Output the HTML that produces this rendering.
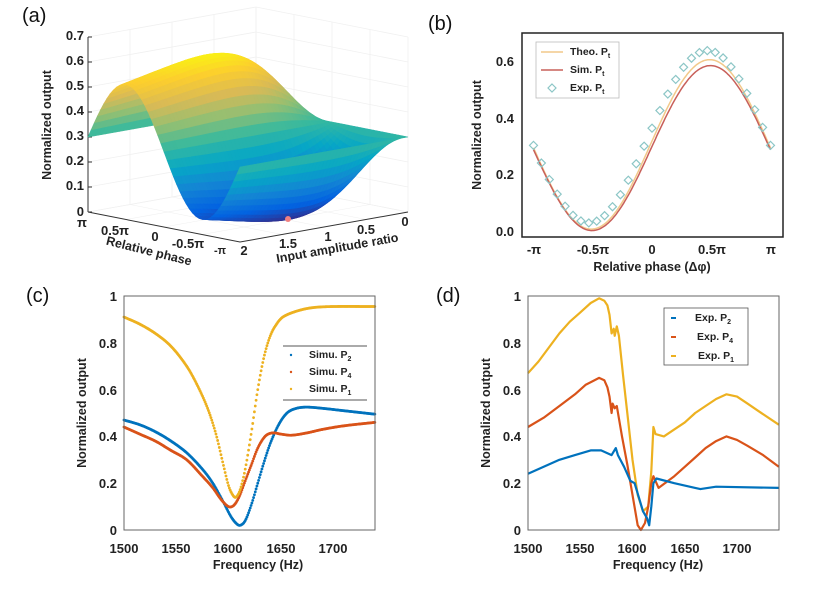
<!DOCTYPE html>
<html><head><meta charset="utf-8"><style>
html,body{margin:0;padding:0;background:#fff;}
svg{display:block;font-family:"Liberation Sans",Arial,sans-serif;}
.t{font-size:13px;font-weight:bold;fill:#222;}
.at{font-size:12.5px;font-weight:bold;fill:#222;}
.pl{font-size:20px;fill:#111;}
.lg{font-size:10.5px;font-weight:bold;fill:#222;}
.sb{font-size:7px;}
</style></head><body>
<svg id="s" width="826" height="595" viewBox="0 0 826 595" xmlns="http://www.w3.org/2000/svg">
<rect width="826" height="595" fill="#fff"/>
<text class="pl" x="22" y="22">(a)</text>
<text class="pl" x="428" y="30">(b)</text>
<text class="pl" x="26" y="302">(c)</text>
<text class="pl" x="436" y="302">(d)</text>

<g id="A"></g>
<g class="t" text-anchor="end">
<text x="84" y="40">0.7</text><text x="84" y="65">0.6</text><text x="84" y="90">0.5</text>
<text x="84" y="115">0.4</text><text x="84" y="140">0.3</text><text x="84" y="165">0.2</text>
<text x="84" y="190">0.1</text><text x="84" y="216">0</text>
</g>
<text class="at" transform="translate(51,125) rotate(-90)" text-anchor="middle">Normalized output</text>
<g class="t" text-anchor="middle">
<text x="82" y="227">π</text><text x="115" y="235">0.5π</text><text x="155" y="241">0</text>
<text x="188" y="248">-0.5π</text><text x="220" y="254" font-size="11">-π</text>
<text x="244" y="255">2</text><text x="288" y="248">1.5</text><text x="328" y="241">1</text>
<text x="366" y="234">0.5</text><text x="405" y="226">0</text>
</g>
<text class="at" font-size="13" transform="translate(148,255) rotate(14)" text-anchor="middle">Relative phase</text>
<text class="at" font-size="13" transform="translate(338,252) rotate(-10)" text-anchor="middle">Input amplitude ratio</text>

<g id="B"></g>
<rect x="522" y="33" width="261" height="204" fill="none" stroke="#222" stroke-width="1.5"/>
<g class="t" text-anchor="end">
<text x="514" y="66">0.6</text><text x="514" y="123">0.4</text><text x="514" y="179">0.2</text><text x="514" y="236">0.0</text>
</g>
<g class="t" text-anchor="middle">
<text x="534" y="254">-π</text><text x="593" y="254">-0.5π</text><text x="652" y="254">0</text>
<text x="712" y="254">0.5π</text><text x="771" y="254">π</text>
</g>
<text class="at" x="652" y="271" text-anchor="middle">Relative phase (Δφ)</text>
<text class="at" transform="translate(481,135) rotate(-90)" text-anchor="middle">Normalized output</text>
<rect x="536" y="42" width="83" height="56" fill="#fff" stroke="#bbb" stroke-width="0.8"/>
<line x1="541" y1="52" x2="563" y2="52" stroke="#f2c98a" stroke-width="1.5"/>
<line x1="541" y1="70" x2="563" y2="70" stroke="#c8605a" stroke-width="1.5"/>
<path d="M552 84 l4 4 l-4 4 l-4 -4z" fill="none" stroke="#8cc6c6" stroke-width="1.2"/>
<text class="lg" x="570" y="55">Theo. P<tspan class="sb" dy="3">t</tspan></text>
<text class="lg" x="570" y="73">Sim. P<tspan class="sb" dy="3">t</tspan></text>
<text class="lg" x="570" y="91">Exp. P<tspan class="sb" dy="3">t</tspan></text>

<g id="C"></g>
<rect x="124" y="296" width="251" height="234" fill="none" stroke="#666" stroke-width="1"/>
<g class="t" text-anchor="end" font-size="14">
<text x="117" y="301">1</text><text x="117" y="348">0.8</text><text x="117" y="395">0.6</text>
<text x="117" y="441">0.4</text><text x="117" y="488">0.2</text><text x="117" y="535">0</text>
</g>
<g class="t" text-anchor="middle" font-size="14">
<text x="124" y="553">1500</text><text x="176" y="553">1550</text><text x="228" y="553">1600</text>
<text x="281" y="553">1650</text><text x="333" y="553">1700</text>
</g>
<text class="at" x="258" y="569" text-anchor="middle">Frequency (Hz)</text>
<text class="at" transform="translate(86,413) rotate(-90)" text-anchor="middle">Normalized output</text>
<rect x="283" y="346" width="84" height="54" fill="#fff"/>
<line x1="283" y1="346" x2="367" y2="346" stroke="#555"/><line x1="283" y1="400" x2="367" y2="400" stroke="#555"/>
<circle cx="291" cy="355" r="1.2" fill="#0072BD"/><circle cx="291" cy="372" r="1.2" fill="#D95319"/><circle cx="291" cy="389" r="1.2" fill="#EDB120"/>
<text class="lg" x="309" y="358">Simu. P<tspan class="sb" dy="3">2</tspan></text>
<text class="lg" x="309" y="375">Simu. P<tspan class="sb" dy="3">4</tspan></text>
<text class="lg" x="309" y="392">Simu. P<tspan class="sb" dy="3">1</tspan></text>

<g id="D"></g>
<rect x="528" y="296" width="251" height="234" fill="none" stroke="#666" stroke-width="1"/>
<g class="t" text-anchor="end" font-size="14">
<text x="521" y="301">1</text><text x="521" y="348">0.8</text><text x="521" y="395">0.6</text>
<text x="521" y="441">0.4</text><text x="521" y="488">0.2</text><text x="521" y="535">0</text>
</g>
<g class="t" text-anchor="middle" font-size="14">
<text x="528" y="553">1500</text><text x="580" y="553">1550</text><text x="632" y="553">1600</text>
<text x="685" y="553">1650</text><text x="737" y="553">1700</text>
</g>
<text class="at" x="658" y="569" text-anchor="middle">Frequency (Hz)</text>
<text class="at" transform="translate(490,413) rotate(-90)" text-anchor="middle">Normalized output</text>
<rect x="664" y="308" width="84" height="57" fill="#fff" stroke="#555" stroke-width="0.8"/>
<line x1="671" y1="318" x2="676" y2="318" stroke="#0072BD" stroke-width="2"/>
<line x1="671" y1="337" x2="676" y2="337" stroke="#D95319" stroke-width="2"/>
<line x1="671" y1="356" x2="676" y2="356" stroke="#EDB120" stroke-width="2"/>
<text class="lg" x="695" y="321">Exp. P<tspan class="sb" dy="3">2</tspan></text>
<text class="lg" x="697" y="340">Exp. P<tspan class="sb" dy="3">4</tspan></text>
<text class="lg" x="698" y="359">Exp. P<tspan class="sb" dy="3">1</tspan></text>
</svg>
<script>
var NS="http://www.w3.org/2000/svg";
function el(p,t,a){var e=document.createElementNS(NS,t);for(var k in a)e.setAttribute(k,a[k]);p.appendChild(e);return e;}
var P=[[53,42,135],[3,99,225],[20,133,212],[6,167,198],[56,185,158],[146,191,115],[217,186,86],[252,206,46],[249,251,14]];
function col(t){t=Math.max(0,Math.min(1,t))*8;var i=Math.min(7,Math.floor(t)),f=t-i,a=P[i],b=P[i+1];
return "rgb("+[0,1,2].map(function(k){return Math.round(a[k]+(b[k]-a[k])*f)}).join(",")+")";}
var A=document.getElementById("A");
function pr(u,v,z){return [240-152*u+168*(1-v),242-30*u-30*(1-v)-250*z];}
var gc="#f0f0f0";
for(var i=0;i<=7;i++){var z=i*0.1;var a=pr(1,1,z),b=pr(1,0,z),c=pr(0,0,z);
el(A,"polyline",{points:a+" "+b+" "+c,fill:"none",stroke:gc,"stroke-width":0.8});}
for(var i=0;i<=4;i++){var a=pr(1-i/4,0,0),b=pr(1-i/4,0,0.7);el(A,"line",{x1:a[0],y1:a[1],x2:b[0],y2:b[1],stroke:gc,"stroke-width":0.8});
var c=pr(1,i/4,0),d=pr(1,i/4,0.7);el(A,"line",{x1:c[0],y1:c[1],x2:d[0],y2:d[1],stroke:gc,"stroke-width":0.8});
var e=pr(1-i/4,1,0),f=pr(1-i/4,0,0);el(A,"line",{x1:e[0],y1:e[1],x2:f[0],y2:f[1],stroke:gc,"stroke-width":0.6});
var g=pr(0,i/4,0),h=pr(1,i/4,0);el(A,"line",{x1:g[0],y1:g[1],x2:h[0],y2:h[1],stroke:gc,"stroke-width":0.6});}
var o=pr(1,1,0),o2=pr(1,1,0.7);el(A,"line",{x1:o[0],y1:o[1],x2:o2[0],y2:o2[1],stroke:"#333"});
for(var i=0;i<=7;i++){var q=pr(1,1,i*0.1);el(A,"line",{x1:q[0],y1:q[1],x2:q[0]+4,y2:q[1],stroke:"#333"});}
var f1=pr(1,1,0),f2=pr(0,1,0),f3=pr(0,0,0);
el(A,"polyline",{points:f1+" "+f2+" "+f3,fill:"none",stroke:"#333"});
function Z(u,v){var ph=-Math.PI+2*Math.PI*u,r=2*v;return 0.3*(1+r*r+2*r*Math.sin(ph))/(1+r*r);}
var N=48,qs=[];
for(var i=0;i<N;i++)for(var j=0;j<N;j++){var u0=i/N,u1=(i+1)/N,v0=j/N,v1=(j+1)/N;
var zs=[Z(u0,v0),Z(u1,v0),Z(u1,v1),Z(u0,v1)];var zm=(zs[0]+zs[1]+zs[2]+zs[3])/4;
qs.push({d:(u0+u1)/2+(1-(v0+v1)/2),p:[pr(u0,v0,zs[0]),pr(u1,v0,zs[1]),pr(u1,v1,zs[2]),pr(u0,v1,zs[3])],c:col(zm/0.62)});}
qs.sort(function(a,b){return b.d-a.d});
qs.forEach(function(q){el(A,"polygon",{points:q.p.join(" "),fill:q.c,stroke:q.c,"stroke-width":0.6});});
el(A,"circle",{cx:288,cy:219,r:3,fill:"#f08080"});
var B=document.getElementById("B");
function bx(ph){return 652+ph/Math.PI*118.5;} function by(y){return 230-y*282.5;}
function line(g,f,c,w){var s="";for(var k=0;k<=200;k++){var ph=-Math.PI+2*Math.PI*k/200;s+=bx(ph).toFixed(1)+","+by(f(ph)).toFixed(1)+" ";}
el(g,"polyline",{points:s,fill:"none",stroke:c,"stroke-width":w});}
line(B,function(p){return 0.3+0.3*Math.sin(p+0.04)+0.003},"#f2c98a",1.5);
line(B,function(p){return 0.29+0.292*Math.sin(p+0.02)},"#c8605a",1.5);
for(var k=0;k<=30;k++){var ph=-Math.PI+2*Math.PI*k/30;var y=0.33+0.305*Math.sin(ph+0.1);
var X=bx(ph),Y=by(y);el(B,"path",{d:"M"+X+" "+(Y-4)+"l4 4l-4 4l-4 -4z",fill:"none",stroke:"#8cc6c6","stroke-width":1.2});}
function interp(pts,x){for(var i=0;i<pts.length-1;i++){if(x<=pts[i+1][0]){var a=pts[i],b=pts[i+1];return a[1]+(b[1]-a[1])*(x-a[0])/(b[0]-a[0]);}}return pts[pts.length-1][1];}
function cr(pts,x){var n=pts.length;for(var i=0;i<n-1;i++){if(x<=pts[i+1][0]){var p0=pts[Math.max(0,i-1)],p1=pts[i],p2=pts[i+1],p3=pts[Math.min(n-1,i+2)];
var h=p2[0]-p1[0],t=(x-p1[0])/h;var m1=(p2[1]-p0[1])/(p2[0]-p0[0])*h,m2=(p3[1]-p1[1])/(p3[0]-p1[0])*h;
var t2=t*t,t3=t2*t;return (2*t3-3*t2+1)*p1[1]+(t3-2*t2+t)*m1+(-2*t3+3*t2)*p2[1]+(t3-t2)*m2;}}return pts[n-1][1];}
function pts(o){var r=[];for(var k in o)r.push([+k,o[k]]);r.sort(function(a,b){return a[0]-b[0]});return r;}
var C=document.getElementById("C");
function cx(f){return 124+(f-1500)*1.045;} function cy(y){return 530-y*234;}
var c1=pts({1500:.91,1515:.88,1530:.84,1545:.785,1560:.7,1570:.62,1580:.52,1588:.41,1595:.28,1600:.19,1604:.15,1607:.14,1611:.17,1616:.26,1622:.42,1628:.6,1634:.74,1640:.83,1646:.88,1652:.91,1665:.935,1680:.95,1700:.955,1740:.955});
var c2=pts({1500:.47,1515:.45,1530:.42,1545:.38,1560:.33,1575:.26,1585:.2,1595:.12,1602:.06,1607:.03,1611:.02,1616:.04,1622:.11,1628:.2,1634:.29,1640:.37,1648:.45,1656:.5,1665:.52,1675:.525,1690:.52,1710:.51,1740:.495});
var c4=pts({1500:.44,1515:.41,1530:.38,1545:.34,1560:.3,1575:.23,1585:.18,1593:.13,1600:.1,1605:.105,1610:.14,1616:.21,1622:.28,1628:.35,1635:.4,1642:.415,1650:.41,1660:.405,1675:.415,1690:.43,1710:.445,1740:.46});
[[c2,"#0072BD"],[c4,"#D95319"],[c1,"#EDB120"]].forEach(function(s){for(var f=1500;f<=1740;f+=0.8){el(C,"circle",{cx:cx(f),cy:cy(cr(s[0],f)),r:1.4,fill:s[1]});}});
var D=document.getElementById("D");
function dx(f){return 528+(f-1500)*1.045;}
var d1=pts({1500:.67,1510:.72,1520:.78,1530:.84,1540:.89,1550:.93,1560:.97,1568:.99,1573:.98,1576:.96,1578:.92,1580:.84,1582:.86,1583:.83,1585:.87,1587:.83,1591:.66,1595:.5,1600:.3,1605:.15,1610:.08,1615:.1,1618:.25,1620:.44,1622:.41,1630:.4,1640:.43,1650:.46,1660:.5,1670:.53,1680:.56,1690:.58,1700:.57,1710:.54,1720:.51,1740:.45});
var d4=pts({1500:.44,1515:.48,1530:.53,1545:.58,1555:.62,1568:.65,1573:.64,1576:.61,1578:.57,1580:.5,1581:.54,1583:.52,1585:.53,1590:.4,1595:.28,1600:.15,1605:.02,1608:0,1612:.03,1615:.1,1618:.2,1620:.23,1625:.18,1640:.23,1650:.27,1660:.31,1670:.35,1680:.38,1690:.4,1700:.385,1710:.36,1725:.32,1740:.27});
var d2=pts({1500:.24,1515:.27,1530:.3,1545:.32,1560:.34,1570:.34,1580:.32,1584:.35,1586:.32,1592:.27,1598:.21,1602:.2,1606:.14,1610:.08,1614:.05,1616:.02,1618:.1,1620:.2,1623:.22,1640:.2,1660:.18,1665:.175,1680:.185,1740:.18});
[[d1,"#EDB120"],[d4,"#D95319"],[d2,"#0072BD"]].forEach(function(s){var str=s[0].map(function(p){return dx(p[0]).toFixed(1)+","+cy(p[1]).toFixed(1)}).join(" ");
el(D,"polyline",{points:str,fill:"none",stroke:s[1],"stroke-width":2.2,"stroke-linejoin":"round"});});
</script>
</body></html>
